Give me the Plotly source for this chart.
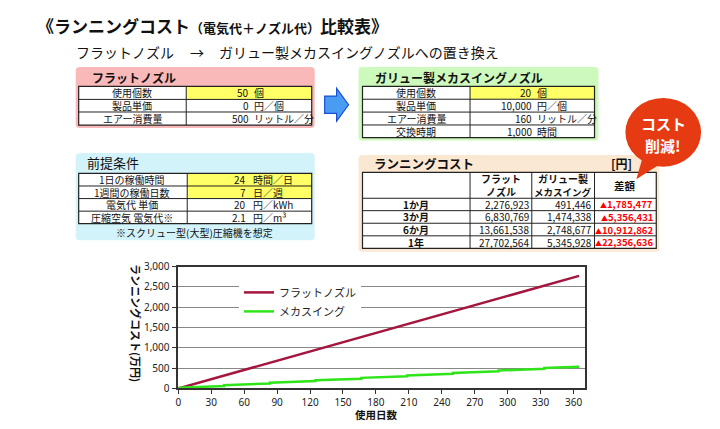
import plotly.graph_objects as go

W, H = 720, 429
CJK = "Noto Sans CJK JP"

# ---------------- data ----------------
flat_days = [0, 365]
flat_cost = [0, 2770]  # 万円
mecha_days = [0, 41.7, 41.7, 83.3, 83.3, 125, 125, 166.7, 166.7, 208.3, 208.3,
              250, 250, 291.7, 291.7, 333.3, 333.3, 365]
mecha_cost = [20, 60, 80, 121, 141, 181, 201, 241, 261, 302, 322,
              362, 382, 422, 442, 483, 503, 533]  # 万円
x_ticks = [0, 30, 60, 90, 120, 150, 180, 210, 240, 270, 300, 330, 360]
y_ticks = [0, 500, 1000, 1500, 2000, 2500, 3000]

flat_labels = ["使用個数", "製品単価", "エアー消費量"]
flat_values = ["50", "0", "500"]
flat_units = ["個", "円／個", "リットル／分"]

mecha_labels = ["使用個数", "製品単価", "エアー消費量", "交換時期"]
mecha_values = ["20", "10,000", "160", "1,000"]
mecha_units = ["個", "円／個", "リットル／分", "時間"]

cond_labels = ["1日の稼働時間", "1週間の稼働日数", "電気代 単価", "圧縮空気 電気代※"]
cond_values = ["24", "7", "20", "2.1"]
cond_units = ["時間／日", "日／週", "円／kWh", "円／m³"]

period_labels = ["1か月", "3か月", "6か月", "1年"]
flat_cost_yen = [2276923, 6830769, 13661538, 27702564]
mecha_cost_yen = [491446, 1474338, 2748677, 5345928]
diff_yen = [1785477, 5356431, 10912862, 22356636]

ROW = 10  # font size of table rows


def X(p):
    return p / W


def Y(p):
    return 1 - p / H


shapes = []
ann = []


def text(x, y, s, size=ROW, anchor="center", color="#111", bold=False, family=CJK, angle=0):
    if bold:
        s = "<b>" + s + "</b>"
    ann.append(dict(x=X(x), y=Y(y), xref="paper", yref="paper", text=s, showarrow=False,
                    xanchor=anchor, yanchor="middle", textangle=angle, borderpad=0,
                    font=dict(size=size, color=color, family=family)))


def rrect(x0, y0, x1, y1, r, fill):
    p = (f"M {X(x0+r)},{Y(y0)} L {X(x1-r)},{Y(y0)} Q {X(x1)},{Y(y0)} {X(x1)},{Y(y0+r)} "
         f"L {X(x1)},{Y(y1-r)} Q {X(x1)},{Y(y1)} {X(x1-r)},{Y(y1)} "
         f"L {X(x0+r)},{Y(y1)} Q {X(x0)},{Y(y1)} {X(x0)},{Y(y1-r)} "
         f"L {X(x0)},{Y(y0+r)} Q {X(x0)},{Y(y0)} {X(x0+r)},{Y(y0)} Z")
    shapes.append(dict(type="path", xref="paper", yref="paper", path=p,
                       fillcolor=fill, line=dict(width=0), layer="below"))


def rect(x0, y0, x1, y1, fill, lw=0, lc="#222"):
    shapes.append(dict(type="rect", xref="paper", yref="paper", x0=X(x0), x1=X(x1),
                       y0=Y(y1), y1=Y(y0), fillcolor=fill, line=dict(width=lw, color=lc)))


def line(x0, y0, x1, y1, lw=1, lc="#222"):
    shapes.append(dict(type="line", xref="paper", yref="paper", x0=X(x0), x1=X(x1),
                       y0=Y(y0), y1=Y(y1), line=dict(width=lw, color=lc)))


def grid(xs, ys, yellow_rows=()):
    rect(xs[0], ys[0], xs[-1], ys[-1], "white")
    for r in yellow_rows:
        rect(xs[1], ys[r], xs[2], ys[r + 1], "#FFFF66")
    for y in ys[1:-1]:
        line(xs[0], y, xs[-1], y, 1)
    for x in xs[1:-1]:
        line(x, ys[0], x, ys[-1], 1)
    rect(xs[0], ys[0], xs[-1], ys[-1], "rgba(0,0,0,0)", 1.2)


# ---------------- title ----------------
ann.append(dict(x=X(33), y=Y(18), xref="paper", yref="paper", showarrow=False,
                xanchor="left", yanchor="middle", borderpad=0,
                text="<b>《ランニングコスト<span style='font-size:13px'>（電気代＋ノズル代）</span>比較表》</b>",
                font=dict(size=17, color="#111", family=CJK)))
text(72, 46, "フラットノズル", 14, "left")
text(195, 46, "→", 14)
text(216, 46, "ガリュー製メカスイングノズルへの置き換え", 14, "left")

# ---------------- flat nozzle box ----------------
rrect(73, 61, 313, 124, 4, "#F9B9B9")
text(88, 71.5, "フラットノズル", 12, "left", bold=True)
fx = [76, 184, 310]
fy = [81, 94.5, 107.5, 121]
grid(fx, fy, yellow_rows=(0,))
for i in range(3):
    yc = (fy[i] + fy[i + 1]) / 2
    text(130, yc, flat_labels[i])
    text(248, yc, flat_values[i], anchor="right")
    text(251, yc, flat_units[i], anchor="left")

# arrow
ap = [(323, 91), (335, 91), (335, 83), (347, 100), (335, 117), (335, 109), (323, 109)]
path = "M " + " L ".join(f"{X(a)},{Y(b)}" for a, b in ap) + " Z"
shapes.append(dict(type="path", xref="paper", yref="paper", path=path,
                   fillcolor="#4A9CF2", line=dict(width=1.2, color="#1A4FD6")))

# ---------------- mecha swing box ----------------
rrect(357, 61, 598, 137, 4, "#CDF9BC")
text(373, 72, "ガリュー製メカスイングノズル", 12, "left", bold=True)
mx = [361, 469, 594]
my = [81, 94.3, 107.6, 120.9, 134]
grid(mx, my, yellow_rows=(0,))
for i in range(4):
    yc = (my[i] + my[i + 1]) / 2
    text(415, yc, mecha_labels[i])
    text(532, yc, mecha_values[i], anchor="right")
    text(535, yc, mecha_units[i], anchor="left")

# ---------------- conditions box ----------------
rrect(73, 150, 313, 240, 4, "#D3F3FB")
text(83, 160, "前提条件", 13, "left")
cx = [76, 185, 310]
cy = [171, 184, 197, 210, 223]
grid(cx, cy, yellow_rows=(0, 1))
for i in range(4):
    yc = (cy[i] + cy[i + 1]) / 2
    text(130, yc, cond_labels[i])
    text(245, yc, cond_values[i], anchor="right")
    text(250, yc, cond_units[i], anchor="left")
text(192, 232.5, "※スクリュー型(大型)圧縮機を想定", 10)

# ---------------- running cost box ----------------
rrect(357, 152, 659, 252, 4, "#FBE8D3")
text(372, 160.5, "ランニングコスト", 12.5, "left", bold=True)
text(610, 160.5, "[円]", 12, "left", bold=True)
rx = [361, 469, 531, 594, 656]
ry = [170, 196.7, 209.5, 222.5, 235.5, 248.5]
grid(rx, ry)
text(500, 176.5, "フラット", 10, bold=True)
text(500, 190, "ノズル", 10, bold=True)
text(562.5, 176.5, "ガリュー製", 10, bold=True)
text(562.5, 190, "メカスイング", 9.5, bold=True)
text(625, 183, "差額", 10.5, bold=True)
for i in range(4):
    yc = (ry[i + 1] + ry[i + 2]) / 2
    text(415, yc, period_labels[i], bold=True)
    text(529, yc, f"{flat_cost_yen[i]:,}", 10, "right")
    text(592, yc, f"{mecha_cost_yen[i]:,}", 10, "right")
    text(654, yc, f"<span style='font-size:7px'>▲</span>{diff_yen[i]:,}", 9.5, "right",
         color="#FF0000", bold=True)

# ---------------- red bubble ----------------
tail = [(643, 152), (636, 177), (662, 160)]
path = "M " + " L ".join(f"{X(a)},{Y(b)}" for a, b in tail) + " Z"
shapes.append(dict(type="path", xref="paper", yref="paper", path=path,
                   fillcolor="#E63A12", line=dict(width=0)))
shapes.append(dict(type="circle", xref="paper", yref="paper", x0=X(625), x1=X(701),
                   y0=Y(164), y1=Y(93), fillcolor="#E63A12", line=dict(width=0)))
text(663, 119, "コスト", 15, color="white", bold=True)
text(663, 142, "削減!", 15, color="white", bold=True)

# ---------------- chart ----------------
fig = go.Figure()
fig.add_trace(go.Scatter(x=flat_days, y=flat_cost, mode="lines", name="フラットノズル",
                         line=dict(color="#A5163F", width=2.5)))
fig.add_trace(go.Scatter(x=mecha_days, y=mecha_cost, mode="lines", name="メカスイング",
                         line=dict(color="#2FE51A", width=2.5)))

text(133, 326, "ランニングコスト(万円)", 11, bold=True, angle=90)
text(375, 420, "使用日数", 10.5, bold=True)

fig.update_layout(
    width=W, height=H, autosize=False,
    margin=dict(l=0, r=0, t=0, b=0),
    paper_bgcolor="white", plot_bgcolor="white",
    font=dict(family=CJK, color="#111"),
    shapes=shapes, annotations=ann,
    showlegend=True,
    legend=dict(x=X(237), y=Y(279), xanchor="left", yanchor="top",
                bgcolor="white", borderwidth=0, itemwidth=30,
                font=dict(size=11, family=CJK, color="#222"),
                tracegroupgap=0),
    xaxis=dict(domain=[X(176), X(584)], range=[0, 370], tickmode="array",
               tickvals=x_ticks, showgrid=False, zeroline=False,
               showline=True, linecolor="#333", linewidth=1.5, mirror=True,
               ticks="outside", ticklen=4, tickcolor="#333",
               tickfont=dict(family="Noto Sans", size=10, color="#222")),
    yaxis=dict(domain=[Y(393.3), Y(267.3)], range=[0, 3000], tickmode="array",
               tickvals=y_ticks, tickformat=",", showgrid=True, gridcolor="#888",
               gridwidth=1.3, zeroline=False,
               showline=True, linecolor="#333", linewidth=1.5, mirror=True,
               ticks="outside", ticklen=5, tickcolor="#333",
               tickfont=dict(family="Noto Sans", size=10, color="#222")),
)

fig.write_html("out.html", config={"displayModeBar": False},
               post_script="document.body.style.margin='0';document.body.style.overflow='hidden';")
